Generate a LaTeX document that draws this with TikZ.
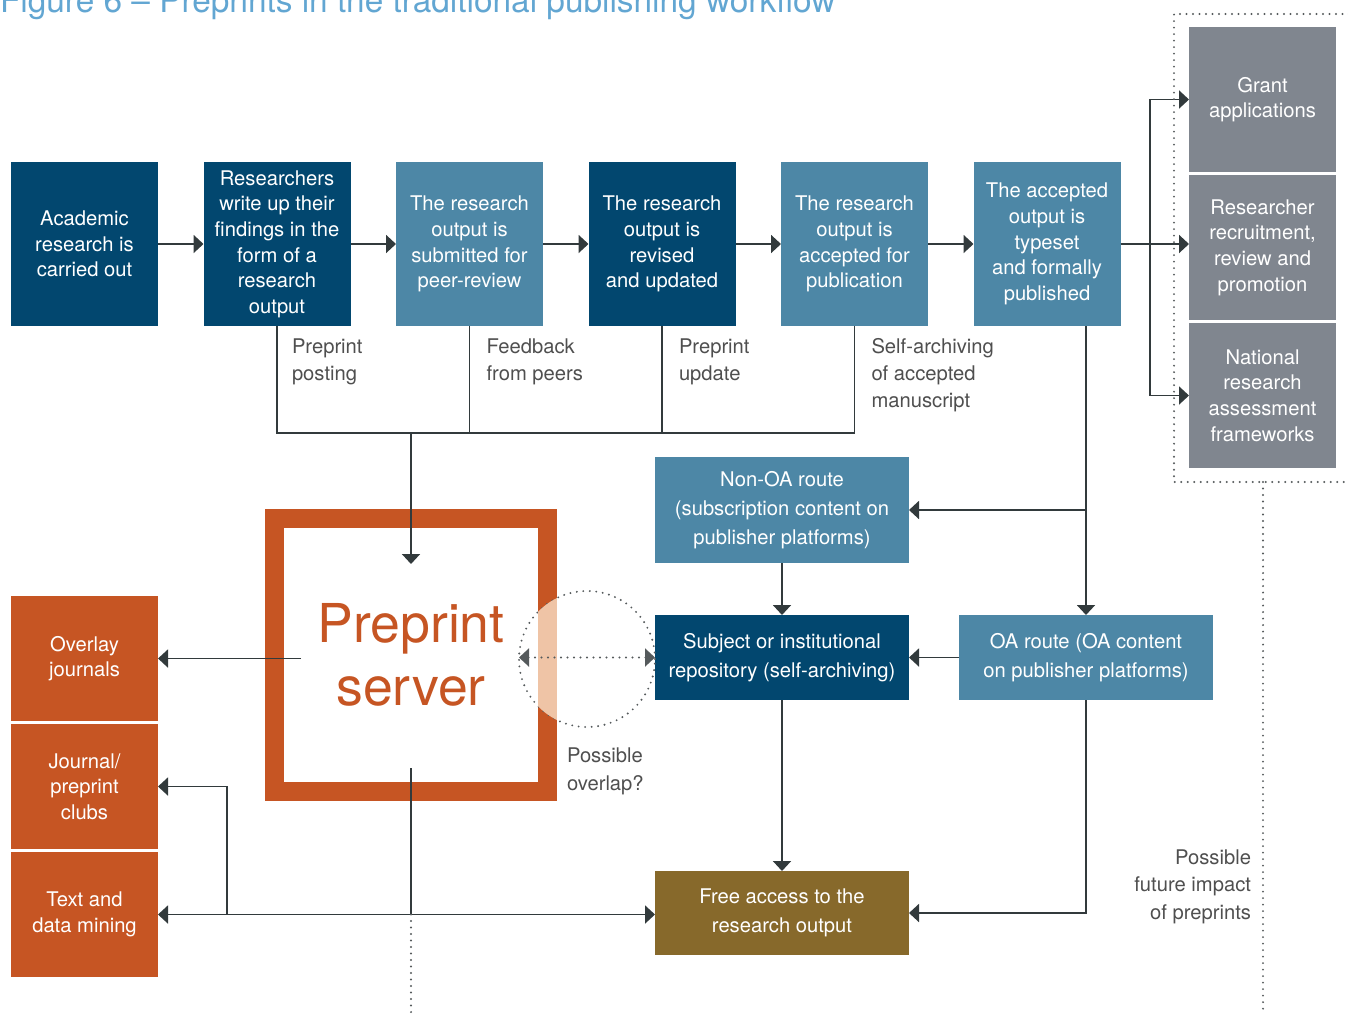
\documentclass[tikz,border=0pt]{standalone}
\usepackage{fontspec}
\setmainfont{TeX Gyre Heros}
\usepackage{xcolor}
\usepackage{tikz}
\usetikzlibrary{arrows.meta}
\usetikzlibrary{calc}
\usetikzlibrary{positioning}
\definecolor{tikz-navy}{HTML}{02476F}
\definecolor{tikz-teal}{HTML}{4D87A6}
\definecolor{tikz-grey}{HTML}{80868F}
\definecolor{tikz-rust}{HTML}{C65523}
\definecolor{tikz-olive}{HTML}{87692B}
\definecolor{tikz-peach}{HTML}{EFC4A6}
\definecolor{tikz-line}{HTML}{323A3C}
\definecolor{tikz-text}{HTML}{4F4F4F}
\definecolor{tikz-dot}{HTML}{555A5C}
\definecolor{tikz-title}{HTML}{62A6D2}
\newcommand{\flowfont}{\fontsize{11.5}{14.6}\selectfont}
\newcommand{\notefont}{\fontsize{11.5}{15.4}\selectfont}
\newcommand{\routefont}{\fontsize{11.5}{16.4}\selectfont}
\newcommand{\serverfont}{\fontsize{30.5}{35.8}\selectfont}
\newcommand{\titlefont}{\fontsize{19}{22}\selectfont}
\tikzset{node distance=0.91cm, every node/.style={inner sep=0pt, outer sep=0pt, align=center, font=\flowfont}}
\tikzstyle{ln} = [draw=tikz-line, line width=1.1pt, arrows={-Triangle[length=0.2cm, width=0.36cm]}]
\tikzstyle{ln2} = [ln, arrows={Triangle[length=0.2cm, width=0.36cm]-Triangle[length=0.2cm, width=0.36cm]}]
\tikzstyle{wire} = [draw=tikz-line, line width=1.1pt]
\tikzstyle{dots} = [draw=tikz-dot, line width=1.2pt, line cap=round, dash pattern=on 0pt off 3.7pt]

\begin{document}
\begin{tikzpicture}[
        dark-block/.style={rectangle, fill=tikz-navy, text=white, minimum width=2.94cm, minimum height=3.28cm},
        mid-block/.style={dark-block, fill=tikz-teal},
        grey-block/.style={rectangle, fill=tikz-grey, text=white, minimum width=2.94cm, minimum height=2.9cm},
        rust-block/.style={rectangle, fill=tikz-rust, text=white, minimum width=2.94cm, minimum height=2.5cm},
        route-block/.style={rectangle, fill=tikz-teal, text=white, minimum width=5.08cm, minimum height=1.7cm, font=\routefont},
        server-block/.style={rectangle, draw=tikz-rust, line width=0.38cm, minimum size=5.46cm, text=tikz-rust, font=\serverfont},
        note/.style={text=tikz-text, font=\notefont}
      ]
      \useasboundingbox (0,0) rectangle (26.96,-20.28);
      \node[anchor=base west, text=tikz-title, font=\titlefont] (title) at (0,-0.25) {Figure 6 – Preprints in the traditional publishing workflow};

      \node[dark-block]        (acad) at (1.69,-4.88)          {Academic\\research is\\carried out};
      \node[dark-block]        (writeup)[right=of acad]         {Researchers\\write up their\\findings in the\\form of a\\research\\output};
      \node[mid-block]         (submit)[right=of writeup]       {The research\\output is\\submitted for\\peer-review};
      \node[dark-block]        (revise)[right=of submit]        {The research\\output is\\revised\\and updated};
      \node[mid-block]         (accept)[right=of revise]        {The research\\output is\\accepted for\\publication};
      \node[mid-block]         (typeset)[right=of accept]       {The accepted\\output is\\typeset\\and formally\\published};

      \node[grey-block]        (grant) at (25.25,-1.99)         {Grant\\applications};
      \node[grey-block]        (rcr)[below=0.06cm of grant]     {Researcher\\recruitment,\\review and\\promotion};
      \node[grey-block]        (nraf)[below=0.06cm of rcr]      {National\\research\\assessment\\frameworks};

      \node[rust-block]        (overlay) at (1.69,-13.17)       {Overlay\\journals};
      \node[rust-block]        (clubs)[below=0.06cm of overlay] {Journal/\\preprint\\clubs};
      \node[rust-block]        (tdm)[below=0.06cm of clubs]     {Text and\\data mining};

      \node[server-block]      (server) at (8.22,-13.1)         {Preprint\\server};

      \node[route-block, minimum height=2.12cm] (nonoa) at (15.64,-10.2) {Non-OA route\\(subscription content on\\publisher platforms)};
      \node[route-block, fill=tikz-navy]        (repo)[below=1.04cm of nonoa] {Subject or institutional\\repository (self-archiving)};
      \node[route-block]                        (oa)[right=1.0cm of repo]     {OA route (OA content\\on publisher platforms)};
      \node[route-block, fill=tikz-olive, minimum height=1.68cm] (free)[below=3.42cm of repo] {Free access to the\\research output};

      \node[note, anchor=north west, align=left]  (n-post) at ($(writeup.south)+(0.3,-0.25)$)  {Preprint\\posting};
      \node[note, anchor=north west, align=left]  (n-peer) at ($(submit.south)+(0.34,-0.25)$)  {Feedback\\from peers};
      \node[note, anchor=north west, align=left]  (n-upd) at ($(revise.south)+(0.34,-0.25)$)   {Preprint\\update};
      \node[note, anchor=north west, align=left]  (n-self) at ($(accept.south)+(0.34,-0.25)$)  {Self-archiving\\of accepted\\manuscript};
      \node[note, anchor=base west, align=left]   (n-overlap) at (11.34,-15.8)                {Possible\\overlap?};
      \node[note, anchor=base east, align=right]  (n-future) at (25.02,-18.38)                {Possible\\future impact\\of preprints};

      \coordinate (merge) at (8.22,-8.66);
      \coordinate (server-in) at (8.22,-11.28);
      \coordinate (server-out) at (8.22,-15.36);
      \coordinate (tail) at (8.22,-20.3);
      \coordinate (ov-src) at (6.02,-13.17);
      \coordinate (club-fork) at (4.54,-18.29);
      \coordinate (fork) at (23.0,-4.84);
      \coordinate (overlap) at (11.74,-13.18);
      \coordinate (overlap-w) at (10.38,-13.15);

      \draw[ln]                (acad)            -- (writeup);
      \draw[ln]                (writeup)         -- (submit);
      \draw[ln]                (submit)          -- (revise);
      \draw[ln]                (revise)          -- (accept);
      \draw[ln]                (accept)          -- (typeset);
      \draw[ln]                (typeset.east)    -- (typeset.east -| rcr.west);
      \draw[ln2]               (grant.west)      -- (fork |- grant.west) -- (fork |- nraf.west) -- (nraf.west);

      \draw[wire]              (writeup.south)   |- (merge);
      \draw[wire]              (accept.south)    |- (merge);
      \draw[wire]              (submit.south)    -- (submit.south |- merge);
      \draw[wire]              (revise.south)    -- (revise.south |- merge);
      \draw[ln]                (merge)           -- (server-in);

      \draw[ln]                (ov-src)          -- (overlay.east);
      \draw[wire]              (server-out)      -- (server-out |- club-fork);
      \draw[ln2]               (tdm.east)        -- (tdm.east -| free.west);
      \draw[ln]                (club-fork)       |- (clubs.east);
      \draw[dots]              (server-out |- club-fork) -- (tail);

      \draw[ln]                (oa.north |- typeset.south) -- (oa.north);
      \draw[ln]                (oa.north |- nonoa.east)    -- (nonoa.east);
      \draw[ln]                (nonoa.south)     -- (repo.north);
      \draw[ln]                (oa.west)         -- (repo.east);
      \draw[ln]                (repo.south)      -- (free.north);
      \draw[ln]                (oa.south)        |- (free.east);

      \draw[dots]              (overlap) circle (1.36cm);
      \begin{scope}
        \clip (overlap) circle (1.36cm);
        \fill[tikz-peach] ($(server.north east)+(-0.19,0.19)$) rectangle ($(server.south east)+(0.19,-0.19)$);
      \end{scope}
      \draw[dots, arrows={Triangle[length=0.2cm, width=0.36cm]-Triangle[length=0.2cm, width=0.36cm]}] (overlap-w) -- (repo.west);

      \draw[dots]              (27.5,-0.28) -| (23.48,-9.64) -- (27.5,-9.64);
      \draw[dots]              (25.26,-9.64) -- (25.26,-20.3);
    \end{tikzpicture}
\end{document}
